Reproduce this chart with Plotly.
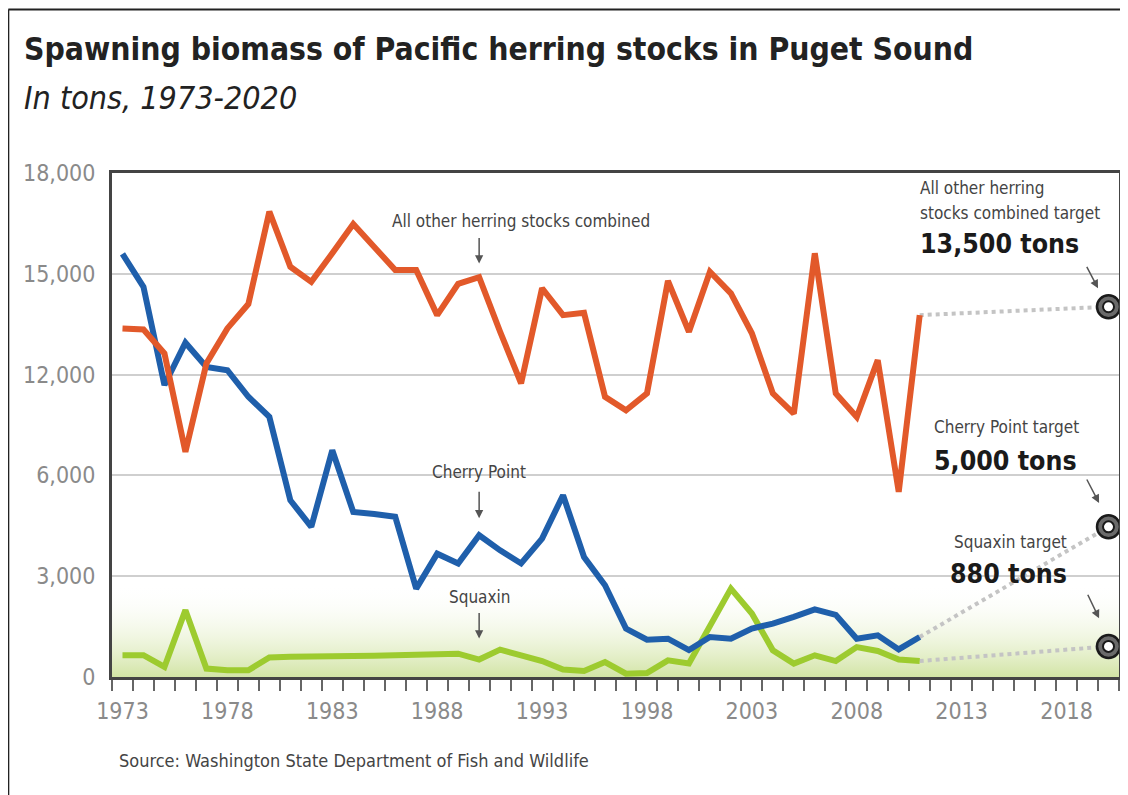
import plotly.graph_objects as go

# Pacific herring spawning biomass (axis units)
years = list(range(1973, 2012))
other_stocks = [10375, 10345, 9630, 6700, 9330, 10375, 11100, 13850, 12210, 11760,
                12610, 13480, 12800, 12110, 12110, 10770, 11700, 11900, 10275, 8740,
                11570, 10770, 10840, 8340, 7940, 8440, 11790, 10275, 12060, 11420,
                10230, 8440, 7840, 12610, 8440, 7740, 9430, 5510, 10770]
cherry_point = [12590, 11610, 8690, 9950, 9230, 9130, 8340, 7740, 5260, 4470,
                6750, 4910, 4850, 4770, 2630, 3670, 3380, 4220, 3770, 3380,
                4120, 5410, 3570, 2730, 1440, 1110, 1140, 800, 1190, 1140,
                1440, 1590, 1790, 2010, 1850, 1140, 1240, 820, 1190]
squaxin = [650, 650, 300, 1990, 250, 200, 200, 580, 600, 600,
           615, 625, 635, 645, 655, 665, 695, 520, 815, 645,
           475, 220, 180, 445, 100, 120, 495, 400, 1490, 2630,
           1890, 795, 400, 645, 475, 890, 775, 520, 475]

target_year = 2020
target_marks = {"other": 11020, "cherry": 4470, "squaxin": 910}

ytick_vals = [0, 3000, 6000, 9000, 12000, 15000]
ytick_text = ["0", "3,000", "6,000", "12,000", "15,000", "18,000"]
xtick_vals = [1973, 1978, 1983, 1988, 1993, 1998, 2003, 2008, 2013, 2018]

ORANGE = "#e2592a"
BLUE = "#1f5fab"
GREEN = "#9dcb2f"
NARROW = "Liberation Sans Narrow, Arial Narrow, DejaVu Sans Condensed, Roboto Condensed, sans-serif"

# plot box in page pixels; the page body adds an 8px margin
PAGE = 8
L, R, T, B = 112, 1122, 173, 677
W, H = R - L, B - T
FIG_W, FIG_H = 1128 - PAGE, 795 - PAGE


def px_x(px):
    return (px - L) / W


def px_y(py):
    return (B - py) / H


fig = go.Figure()

# green band at the bottom
fig.add_trace(go.Scatter(
    x=[1972.5, 2020.5], y=[2800, 2800], mode="lines", line=dict(width=0),
    fill="tozeroy",
    fillgradient=dict(type="vertical", start=0, stop=2800,
                      colorscale=[[0, "rgba(210,228,165,1)"], [1, "rgba(255,255,255,0)"]]),
    hoverinfo="skip", showlegend=False,
))

# dotted links to the targets
for series, key in ((other_stocks, "other"), (cherry_point, "cherry"), (squaxin, "squaxin")):
    fig.add_trace(go.Scatter(
        x=[years[-1], target_year], y=[series[-1], target_marks[key]], mode="lines",
        line=dict(color="#c4c4c4", width=4, dash="dot"), showlegend=False, hoverinfo="skip",
    ))

for series, color, name in ((squaxin, GREEN, "Squaxin"),
                            (cherry_point, BLUE, "Cherry Point"),
                            (other_stocks, ORANGE, "All other herring stocks combined")):
    fig.add_trace(go.Scatter(x=years, y=series, mode="lines", name=name,
                             line=dict(color=color, width=6), showlegend=False))

# target rings
tx = [target_year] * 3
ty = list(target_marks.values())
fig.add_trace(go.Scatter(x=tx, y=ty, mode="markers", cliponaxis=False, showlegend=False,
                         marker=dict(size=23, color="#6a6a6a", line=dict(color="#1a1a1a", width=2.5))))
fig.add_trace(go.Scatter(x=tx, y=ty, mode="markers", cliponaxis=False, showlegend=False,
                         marker=dict(size=11, color="white", line=dict(color="#1a1a1a", width=2))))

ann = []


def text(x, y, s, size, bold=False, italic=False, anchor="left", color="#333", xref="x", yref="y"):
    if bold:
        s = "<b>" + s + "</b>"
    if italic:
        s = "<i>" + s + "</i>"
    ann.append(dict(x=x, y=y, xref=xref, yref=yref, text=s, showarrow=False,
                    xanchor=anchor, yanchor="middle",
                    font=dict(family=NARROW, size=size, color=color)))


def arrow(x, y, ax, ay):
    ann.append(dict(x=x, y=y, xref="x", yref="y", ax=ax, ay=ay, text="", showarrow=True,
                    arrowhead=2, arrowsize=1.1, arrowwidth=1.5, arrowcolor="#555"))


# titles
text(px_x(22), px_y(49), "Spawning biomass of Pacific herring stocks in Puget Sound", 31.6,
     bold=True, color="#222", xref="paper", yref="paper")
text(px_x(22), px_y(98), "In tons, 1973-2020", 32, italic=True, color="#222",
     xref="paper", yref="paper")
text(px_x(117), px_y(760), "Source: Washington State Department of Fish and Wildlife", 18,
     color="#444", xref="paper", yref="paper")

# series labels
text(1992.0, 13570, "All other herring stocks combined", 17, anchor="center", color="#444")
arrow(1990, 12310, 0, -27)
text(1990, 6110, "Cherry Point", 17, anchor="center", color="#444")
arrow(1990, 4724, 0, -28)
text(1990, 2390, "Squaxin", 17, anchor="center", color="#444")
arrow(1990, 1143, 0, -27)

# targets
text(2010.9, 14544, "All other herring", 17, color="#444")
text(2010.9, 13800, "stocks combined target", 17, color="#444")
text(2010.9, 12907, "13,500 tons", 26.5, bold=True, color="#1a1a1a")
arrow(2019.5, 11568, -12, -23)
text(2011.6, 7449, "Cherry Point target", 17, color="#444")
text(2011.6, 6458, "5,000 tons", 26.5, bold=True, color="#1a1a1a")
arrow(2019.55, 5178, -13, -25)
text(2018.1, 4027, "Squaxin target", 17, anchor="right", color="#444")
text(2018.1, 3086, "880 tons", 26.5, bold=True, anchor="right", color="#1a1a1a")
arrow(2019.55, 1747, -12, -25)

# outer frame: left and top edges only, the rest runs off the picture
frame = dict(type="line", xref="paper", yref="paper", line=dict(color="#222", width=2), layer="below")
shapes = [
    dict(frame, x0=px_x(8), x1=px_x(8), y0=px_y(1000), y1=px_y(9.5)),
    dict(frame, x0=px_x(8), x1=px_x(1500), y0=px_y(9.5), y1=px_y(9.5)),
]

fig.update_layout(
    width=FIG_W, height=FIG_H,
    margin=dict(l=L - PAGE, r=FIG_W - (R - PAGE), t=T - PAGE, b=FIG_H - (B - PAGE)),
    paper_bgcolor="white", plot_bgcolor="white",
    font=dict(family=NARROW),
    annotations=ann,
    shapes=shapes,
    xaxis=dict(range=[1972.5, 2020.5], tickvals=xtick_vals, ticks="",
               tickfont=dict(size=23, color="#8a8a8a"), ticklabelstandoff=11,
               showgrid=False, zeroline=False,
               showline=True, mirror=True, linecolor="#444", linewidth=3,
               minor=dict(tick0=1972.5, dtick=1, ticks="outside", ticklen=11,
                          tickcolor="#666", tickwidth=1.5, showgrid=False)),
    yaxis=dict(range=[0, 15000], tickvals=ytick_vals, ticktext=ytick_text, ticks="",
               tickfont=dict(size=23, color="#8a8a8a"), ticklabelstandoff=9,
               showgrid=True, gridcolor="#cfcfcf", gridwidth=1.5, zeroline=False,
               showline=True, mirror=True, linecolor="#444", linewidth=3),
)

fig.write_html("out.html")
